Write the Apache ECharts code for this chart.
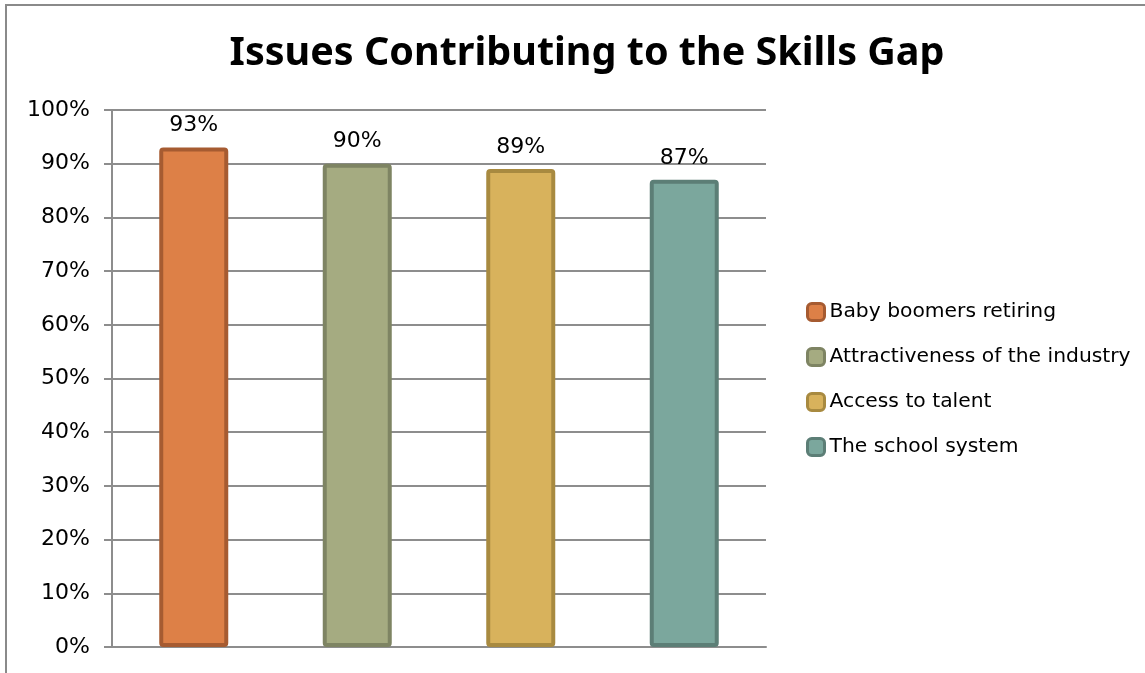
<!DOCTYPE html>
<html>
<head>
<meta charset="utf-8">
<title>Issues Contributing to the Skills Gap</title>
<script src="https://cdn.jsdelivr.net/npm/echarts@6/dist/echarts.min.js"></script>
<style>
  html, body { margin: 0; padding: 0; background: #ffffff; overflow: hidden; }
  #chart { width: 1145px; height: 673px; }
</style>
</head>
<body>
<div id="chart"></div>
<script>
// Survey results: share of respondents naming each issue
const categories = ['Baby boomers retiring', 'Attractiveness of the industry', 'Access to talent', 'The school system'];
const values = [93, 90, 89, 87];
const fillColors = ['#DD8047', '#A5AB81', '#D8B25C', '#7BA79D'];
const edgeColors = ['#A65B31', '#7E8463', '#A88A40', '#5C7E76'];
const yTicks = { min: 0, max: 100, interval: 10 };

const TITLE_FONT = "'Noto Sans', 'DejaVu Sans', sans-serif";
const FONT = "'DejaVu Sans', 'Noto Sans', sans-serif";
const GRID_COLOR = '#8d8d8d';

// one series per issue, each filling only its own slot so the legend lists them
const series = categories.map((name, i) => ({
  name: name,
  type: 'bar',
  stack: 'issues',
  barWidth: 69,
  data: categories.map((_, j) => (j === i ? values[i] : '-')),
  itemStyle: {
    color: fillColors[i],
    borderColor: edgeColors[i],
    borderWidth: 4,
    borderRadius: 2
  },
  label: {
    show: true,
    position: 'top',
    distance: 11,
    formatter: '{c}%',
    color: '#000',
    fontFamily: FONT,
    fontSize: 22
  }
}));

const chart = echarts.init(document.getElementById('chart'), null, { renderer: 'canvas' });
chart.setOption({
  animation: false,
  backgroundColor: '#ffffff',
  title: {
    text: 'Issues Contributing to the Skills Gap',
    left: 582,
    textAlign: 'center',
    top: 29,
    textStyle: { fontFamily: TITLE_FONT, fontWeight: 'bold', fontSize: 39.5, color: '#000' }
  },
  graphic: [{
    type: 'rect',
    shape: { x: 6, y: 5, width: 1300, height: 800 },
    style: { fill: 'none', stroke: '#8a8a8a', lineWidth: 2 },
    silent: true
  }],
  legend: {
    orient: 'vertical',
    left: 806,
    top: 300,
    padding: 0,
    itemWidth: 17,
    itemHeight: 17,
    itemGap: 21,
    icon: 'roundRect',
    itemStyle: { borderWidth: 3 },
    textStyle: { fontFamily: FONT, fontSize: 20.3, color: '#000', lineHeight: 24 },
    data: categories
  },
  grid: { left: 112, right: 379, top: 110, bottom: 26, containLabel: false },
  xAxis: {
    type: 'category',
    data: categories,
    axisLine: { show: true, lineStyle: { color: GRID_COLOR, width: 2 } },
    axisTick: { show: false },
    axisLabel: { show: false }
  },
  yAxis: {
    type: 'value',
    min: yTicks.min,
    max: yTicks.max,
    interval: yTicks.interval,
    axisLine: { show: true, lineStyle: { color: GRID_COLOR, width: 2 } },
    axisTick: { show: true, length: 8, lineStyle: { color: GRID_COLOR, width: 2 } },
    splitLine: { show: true, lineStyle: { color: GRID_COLOR, width: 2 } },
    axisLabel: {
      formatter: '{value}%',
      margin: 22,
      color: '#000',
      fontFamily: FONT,
      fontSize: 22
    }
  },
  series: series
});
</script>
</body>
</html>
